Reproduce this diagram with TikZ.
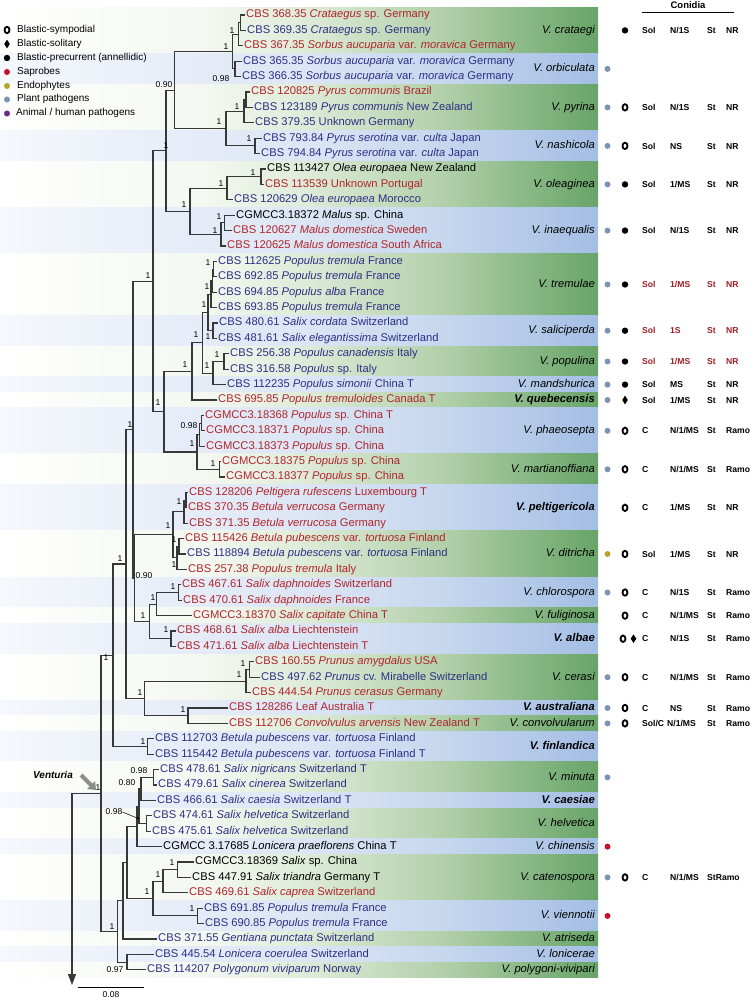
\documentclass[tikz,border=0pt]{standalone}
\usepackage{fontspec}
\setmainfont{Liberation Sans}
\usetikzlibrary{arrows.meta}
\definecolor{tred}{HTML}{B1252B}
\definecolor{tblue}{HTML}{2E2F86}
\definecolor{cred}{HTML}{A01E24}
\definecolor{ppc}{HTML}{7D93B5}
\definecolor{sapc}{HTML}{C8102E}
\definecolor{endc}{HTML}{B8A42C}
\definecolor{anic}{HTML}{6B2A85}
\definecolor{treec}{HTML}{383838}
\definecolor{gA}{HTML}{F4F8F1}
\definecolor{gB}{HTML}{E0ECDA}
\definecolor{gC}{HTML}{B2D0AA}
\definecolor{gD}{HTML}{68A468}
\definecolor{bA}{HTML}{F5F8FC}
\definecolor{bB}{HTML}{DDE6F5}
\definecolor{bC}{HTML}{C6D7EE}
\definecolor{bD}{HTML}{A4BEE4}
\pgfdeclarehorizontalshading{bandg}{100bp}{color(0bp)=(white); color(25bp)=(white); color(42bp)=(gA); color(50bp)=(gB); color(62bp)=(gC); color(75bp)=(gD); color(100bp)=(gD)}
\pgfdeclarehorizontalshading{bandb}{100bp}{color(0bp)=(bA); color(25bp)=(bA); color(50bp)=(bB); color(62bp)=(bC); color(75bp)=(bD); color(100bp)=(bD)}
\newcommand\lifedot[2]{\fill[#1] (607.5,#2) circle (3);}
\newcommand\symring[2]{\draw[line width=1.8pt] (#1,#2) ellipse (2.5 and 3.2);}
\newcommand\symfill[2]{\fill (#1,#2) circle (3.2);}
\newcommand\symdia[2]{\fill (#1,#2-4.3) -- (#1+2.8,#2) -- (#1,#2+4.3) -- (#1-2.8,#2) -- cycle;}
\newcommand\conrow[7]{%
 \node[col,text=#3] (#1a) at (642,#2) {#4};
 \node[col,text=#3] (#1b) at (670,#2) {#5};
 \node[col,text=#3] (#1c) at (707,#2) {#6};
 \node[col,text=#3] (#1d) at (726,#2) {#7};}
\begin{document}
\begin{tikzpicture}[x=1pt,y=-1pt,
  leaf/.style={anchor=west,inner sep=1.5pt,font=\fontsize{11.2}{12}\selectfont,text height=8pt,text depth=2.3pt},
  supp/.style={inner sep=0pt,font=\fontsize{8.5}{9}\selectfont},
  br/.style={line width=1.1pt,draw=treec},
  sp/.style={anchor=east,inner sep=0pt,font=\fontsize{11.2}{12}\selectfont\itshape,text height=8pt,text depth=2.3pt},
  spb/.style={sp,font=\fontsize{11.2}{12}\selectfont\bfseries\itshape},
  col/.style={anchor=west,inner sep=0pt,font=\fontsize{8.6}{10}\selectfont\bfseries,text height=6.3pt,text depth=0pt},
  legt/.style={anchor=west,inner sep=0pt,font=\fontsize{10}{11}\selectfont,text height=7pt,text depth=2pt}]
\useasboundingbox (0,0) rectangle (751,1000);
% bands
\foreach \a/\b/\s in {7.3/53.5/bandg,53.5/84.3/bandb,84.3/130.5/bandg,130.5/161.3/bandb,161.3/207.5/bandg,207.5/253.7/bandb,253.7/315.3/bandg,315.3/346.1/bandb,346.1/376.9/bandg,376.9/392.3/bandb,392.3/407.7/bandg,407.7/453.9/bandb,453.9/484.7/bandg,484.7/530.9/bandb,530.9/577.1/bandg,577.1/607.9/bandb,607.9/623.3/bandg,623.3/654.1/bandb,654.1/700.3/bandg,700.3/715.7/bandb,715.7/731.1/bandg,731.1/761.9/bandb,761.9/792.7/bandg,792.7/808.1/bandb,808.1/838.9/bandg,838.9/854.3/bandb,854.3/900.5/bandg,900.5/931.3/bandb,931.3/946.7/bandg,946.7/962.1/bandb,962.1/977.5/bandg}
  \shade[shading=\s] (0,\a) rectangle (598,\b);
% legend
\symring{7}{30}
\node[legt] (lg1) at (17,30) {Blastic-sympodial};
\symdia{7}{44}
\node[legt] (lg2) at (17,44) {Blastic-solitary};
\symfill{7}{58}
\node[legt] (lg3) at (17,58) {Blastic-precurrent (annellidic)};
\fill[sapc] (7,72) circle (3);
\node[legt] (lg4) at (17,72) {Saprobes};
\fill[endc] (7,86) circle (3);
\node[legt] (lg5) at (17,86) {Endophytes};
\fill[ppc] (7,99.5) circle (3);
\node[legt] (lg6) at (17,99.5) {Plant pathogens};
\fill[anic] (7,113.5) circle (3);
\node[legt] (lg7) at (16,113.5) {Animal / human pathogens};
% header
\node[inner sep=0pt,font=\fontsize{9.5}{10}\selectfont\bfseries] (hdr) at (688,5) {Conidia};
\coordinate (hl) at (642,12.5); \coordinate (hr) at (734,12.5);
\draw[line width=1.3pt] (hl) -- (hr);
% leaves
\node[leaf,text=tred]  (t1)  at (244.5,15.0)  {CBS 368.35 \textit{Crataegus} sp. Germany};
\node[leaf,text=tblue] (t2)  at (245.5,30.4)  {CBS 369.35 \textit{Crataegus} sp. Germany};
\node[leaf,text=tred]  (t3)  at (242.5,45.8)  {CBS 367.35 \textit{Sorbus aucuparia} var. \textit{moravica} Germany};
\node[leaf,text=tblue] (t4)  at (241.5,61.2)  {CBS 365.35 \textit{Sorbus aucuparia} var. \textit{moravica} Germany};
\node[leaf,text=tblue] (t5)  at (240.5,76.6)  {CBS 366.35 \textit{Sorbus aucuparia} var. \textit{moravica} Germany};
\node[leaf,text=tred]  (t6)  at (249.5,92.0)  {CBS 120825 \textit{Pyrus communis} Brazil};
\node[leaf,text=tblue] (t7)  at (252.5,107.4) {CBS 123189 \textit{Pyrus communis} New Zealand};
\node[leaf,text=tblue] (t8)  at (253.5,122.8) {CBS 379.35 Unknown Germany};
\node[leaf,text=tblue] (t9)  at (261.5,138.2) {CBS 793.84 \textit{Pyrus serotina} var. \textit{culta} Japan};
\node[leaf,text=tblue] (t10) at (259.5,153.6) {CBS 794.84 \textit{Pyrus serotina} var. \textit{culta} Japan};
\node[leaf,text=black] (t11) at (265.5,169.0) {CBS 113427 \textit{Olea europaea} New Zealand};
\node[leaf,text=tred]  (t12) at (263.5,184.4) {CBS 113539 Unknown Portugal};
\node[leaf,text=tblue] (t13) at (232.5,199.8) {CBS 120629 \textit{Olea europaea} Morocco};
\node[leaf,text=black] (t14) at (234.5,215.2) {CGMCC3.18372 \textit{Malus} sp. China};
\node[leaf,text=tred]  (t15) at (231.5,230.6) {CBS 120627 \textit{Malus domestica} Sweden};
\node[leaf,text=tred]  (t16) at (225.5,246.0) {CBS 120625 \textit{Malus domestica} South Africa};
\node[leaf,text=tblue] (t17) at (216.5,261.4) {CBS 112625 \textit{Populus tremula} France};
\node[leaf,text=tblue] (t18) at (216.5,276.8) {CBS 692.85 \textit{Populus tremula} France};
\node[leaf,text=tblue] (t19) at (216.5,292.2) {CBS 694.85 \textit{Populus alba} France};
\node[leaf,text=tblue] (t20) at (216.5,307.6) {CBS 693.85 \textit{Populus tremula} France};
\node[leaf,text=tblue] (t21) at (217.5,323.0) {CBS 480.61 \textit{Salix cordata} Switzerland};
\node[leaf,text=tblue] (t22) at (216.5,338.4) {CBS 481.61 \textit{Salix elegantissima} Switzerland};
\node[leaf,text=tblue] (t23) at (228.5,353.8) {CBS 256.38 \textit{Populus canadensis} Italy};
\node[leaf,text=tblue] (t24) at (228.5,369.2) {CBS 316.58 \textit{Populus} sp. Italy};
\node[leaf,text=tblue] (t25) at (225.5,384.6) {CBS 112235 \textit{Populus simonii} China T};
\node[leaf,text=tred]  (t26) at (216.5,400.0) {CBS 695.85 \textit{Populus tremuloides} Canada T};
\node[leaf,text=tred]  (t27) at (203.5,415.4) {CGMCC3.18368 \textit{Populus} sp. China T};
\node[leaf,text=tred]  (t28) at (204.5,430.8) {CGMCC3.18371 \textit{Populus} sp. China};
\node[leaf,text=tred]  (t29) at (204.5,446.2) {CGMCC3.18373 \textit{Populus} sp. China};
\node[leaf,text=tred]  (t30) at (220.5,461.6) {CGMCC3.18375 \textit{Populus} sp. China};
\node[leaf,text=tred]  (t31) at (224.5,477.0) {CGMCC3.18377 \textit{Populus} sp. China};
\node[leaf,text=tred]  (t32) at (187.5,492.4) {CBS 128206 \textit{Peltigera rufescens} Luxembourg T};
\node[leaf,text=tred]  (t33) at (186.5,507.8) {CBS 370.35 \textit{Betula verrucosa} Germany};
\node[leaf,text=tred]  (t34) at (187.5,523.2) {CBS 371.35 \textit{Betula verrucosa} Germany};
\node[leaf,text=tred]  (t35) at (183.5,538.6) {CBS 115426 \textit{Betula pubescens} var. \textit{tortuosa} Finland};
\node[leaf,text=tblue] (t36) at (185.5,554.0) {CBS 118894 \textit{Betula pubescens} var. \textit{tortuosa} Finland};
\node[leaf,text=tred]  (t37) at (186.5,569.4) {CBS 257.38 \textit{Populus tremula} Italy};
\node[leaf,text=tred]  (t38) at (180.5,584.8) {CBS 467.61 \textit{Salix daphnoides} Switzerland};
\node[leaf,text=tred]  (t39) at (181.5,600.2) {CBS 470.61 \textit{Salix daphnoides} France};
\node[leaf,text=tred]  (t40) at (191.5,615.6) {CGMCC3.18370 \textit{Salix capitate} China T};
\node[leaf,text=tred]  (t41) at (175.5,631.0) {CBS 468.61 \textit{Salix alba} Liechtenstein};
\node[leaf,text=tred]  (t42) at (175.5,646.4) {CBS 471.61 \textit{Salix alba} Liechtenstein T};
\node[leaf,text=tred]  (t43) at (253.5,661.8) {CBS 160.55 \textit{Prunus amygdalus} USA};
\node[leaf,text=tblue] (t44) at (259.5,677.2) {CBS 497.62 \textit{Prunus} cv. Mirabelle Switzerland};
\node[leaf,text=tred]  (t45) at (250.5,692.6) {CBS 444.54 \textit{Prunus cerasus} Germany};
\node[leaf,text=tred]  (t46) at (227.5,708.0) {CBS 128286 Leaf Australia T};
\node[leaf,text=tred]  (t47) at (227.5,723.4) {CBS 112706 \textit{Convolvulus arvensis} New Zealand T};
\node[leaf,text=tblue] (t48) at (153.5,738.8) {CBS 112703 \textit{Betula pubescens} var. \textit{tortuosa} Finland};
\node[leaf,text=tblue] (t49) at (153.5,754.2) {CBS 115442 \textit{Betula pubescens} var. \textit{tortuosa} Finland T};
\node[leaf,text=tblue] (t50) at (158.5,769.6) {CBS 478.61 \textit{Salix nigricans} Switzerland T};
\node[leaf,text=tblue] (t51) at (156.5,785.0) {CBS 479.61 \textit{Salix cinerea} Switzerland};
\node[leaf,text=tblue] (t52) at (155.5,800.4) {CBS 466.61 \textit{Salix caesia} Switzerland T};
\node[leaf,text=tblue] (t53) at (151.5,815.8) {CBS 474.61 \textit{Salix helvetica} Switzerland};
\node[leaf,text=tblue] (t54) at (150.5,831.2) {CBS 475.61 \textit{Salix helvetica} Switzerland};
\node[leaf,text=black] (t55) at (161.5,846.6) {CGMCC 3.17685 \textit{Lonicera praeflorens} China T};
\node[leaf,text=black] (t56) at (193.5,862.0) {CGMCC3.18369 \textit{Salix} sp. China};
\node[leaf,text=black] (t57) at (190.5,877.4) {CBS 447.91 \textit{Salix triandra} Germany T};
\node[leaf,text=tred]  (t58) at (187.5,892.8) {CBS 469.61 \textit{Salix caprea} Switzerland};
\node[leaf,text=tblue] (t59) at (202.5,908.2) {CBS 691.85 \textit{Populus tremula} France};
\node[leaf,text=tblue] (t60) at (203.5,923.6) {CBS 690.85 \textit{Populus tremula} France};
\node[leaf,text=tblue] (t61) at (156.5,939.0) {CBS 371.55 \textit{Gentiana punctata} Switzerland};
\node[leaf,text=tblue] (t62) at (153.5,954.4) {CBS 445.54 \textit{Lonicera coerulea} Switzerland};
\node[leaf,text=tblue] (t63) at (145.5,969.8) {CBS 114207 \textit{Polygonum viviparum} Norway};
% internal nodes
\coordinate (c12) at (240.5,22.7);
\coordinate (c123) at (238.5,34.25);
\coordinate (orb) at (235,68.9);
\coordinate (A) at (232.5,51.6);
\coordinate (p67) at (246,99.7);
\coordinate (pyr) at (244,111.25);
\coordinate (nas) at (255,145.9);
\coordinate (C) at (226,128.6);
\coordinate (B) at (174.5,90.1);
\coordinate (o12) at (261,176.7);
\coordinate (ole) at (227,188.25);
\coordinate (i12) at (224.5,222.9);
\coordinate (ina) at (221,234.45);
\coordinate (F) at (190,211.35);
\coordinate (D) at (166,150.7);
\coordinate (tr1) at (213.5,269.1);
\coordinate (tr2) at (212.5,280.65);
\coordinate (tr3) at (211,294.1);
\coordinate (sal) at (213,330.7);
\coordinate (M) at (208,312.4);
\coordinate (pop) at (224,361.5);
\coordinate (N) at (213,373.05);
\coordinate (Ln) at (202.5,342.7);
\coordinate (J) at (192,371.35);
\coordinate (ph12) at (201.5,423.1);
\coordinate (phe) at (199.5,434.65);
\coordinate (mar) at (219.5,469.3);
\coordinate (K) at (197,451.98);
\coordinate (I) at (164,411.7);
\coordinate (H) at (153,281.2);
\coordinate (pe12) at (186,500.1);
\coordinate (pel) at (184,511.65);
\coordinate (d12) at (179,546.3);
\coordinate (dit) at (177,557.85);
\coordinate (S) at (173,534.75);
\coordinate (chl) at (178.5,592.5);
\coordinate (W) at (156.5,604.05);
\coordinate (alb) at (171,638.7);
\coordinate (X) at (149.5,621.4);
\coordinate (V) at (134.5,578.1);
\coordinate (Q) at (133,429.65);
\coordinate (ce1) at (249.5,669.5);
\coordinate (Ce) at (246,681.05);
\coordinate (AC) at (188,715.7);
\coordinate (Y) at (144.5,698.4);
\coordinate (Z) at (126,564.0);
\coordinate (fin) at (147.5,746.5);
\coordinate (AA) at (113,655.25);
\coordinate (min) at (153.5,777.3);
\coordinate (MC) at (141,788.85);
\coordinate (hel) at (146.5,823.5);
\coordinate (JJ) at (139,806.2);
\coordinate (II) at (137,826.4);
\coordinate (ca1) at (177.5,869.7);
\coordinate (cat) at (163,881.25);
\coordinate (vie) at (197.5,915.9);
\coordinate (CV) at (153,898.6);
\coordinate (EE) at (127,862.5);
\coordinate (HH) at (123,900.75);
\coordinate (DD) at (127,962.1);
\coordinate (BB) at (117.5,931.4);
\coordinate (R0) at (101,793.3);
\coordinate (rt) at (72,793.3);
\coordinate (rtend) at (72,985);
% edges
\foreach \p/\c in {c12/t1.west,c12/t2.west,c123/c12,c123/t3.west,orb/t4.west,orb/t5.west,A/c123,A/orb,
 p67/t6.west,p67/t7.west,pyr/p67,pyr/t8.west,nas/t9.west,nas/t10.west,C/pyr,C/nas,B/A,B/C,
 o12/t11.west,o12/t12.west,ole/o12,ole/t13.west,i12/t14.west,i12/t15.west,ina/i12,ina/t16.west,F/ole,F/ina,D/B,D/F,
 tr1/t17.west,tr1/t18.west,tr2/tr1,tr2/t19.west,tr3/tr2,tr3/t20.west,sal/t21.west,sal/t22.west,M/tr3,M/sal,
 pop/t23.west,pop/t24.west,N/pop,N/t25.west,Ln/M,Ln/N,J/Ln,J/t26.west,
 ph12/t27.west,ph12/t28.west,phe/ph12,phe/t29.west,mar/t30.west,mar/t31.west,K/phe,K/mar,I/J,I/K,H/D,H/I,
 pe12/t32.west,pe12/t33.west,pel/pe12,pel/t34.west,d12/t35.west,d12/t36.west,dit/d12,dit/t37.west,S/pel,S/dit,
 chl/t38.west,chl/t39.west,W/chl,W/t40.west,alb/t41.west,alb/t42.west,X/W,X/alb,V/S,V/X,Q/H,Q/V,
 ce1/t43.west,ce1/t44.west,Ce/ce1,Ce/t45.west,AC/t46.west,AC/t47.west,Y/Ce,Y/AC,Z/Q,Z/Y,
 fin/t48.west,fin/t49.west,AA/Z,AA/fin,
 min/t50.west,min/t51.west,MC/min,MC/t52.west,hel/t53.west,hel/t54.west,JJ/MC,JJ/hel,II/JJ,II/t55.west,
 ca1/t56.west,ca1/t57.west,cat/ca1,cat/t58.west,vie/t59.west,vie/t60.west,CV/cat,CV/vie,EE/II,EE/CV,
 HH/EE,HH/t61.west,DD/t62.west,DD/t63.west,BB/HH,BB/DD,R0/AA,R0/BB,rt/R0}
  \draw[br] (\p) |- (\c);
\draw[br,-{Triangle[length=11pt,width=8pt]}] (rt) -- (rtend);
% support values
\foreach \x/\y/\t [count=\i] in {232/31/1,226/47/1,221/79/0.98,164/85/0.90,237/107/1,219/122/1,249/139/1,166/146/1,
 253/173/1,221/184/1,184/205/1,219/217/1,215/231/1,148/276/1,208/263/1,207/287/1,204/305/1,196/335/1,208/337/1,
 217/355/1,207/366/1,185/365/1,158/403/1,130/425/1,189/426/0.98,192/444/1,213/464/1,179/502/1,168/526/1,
 174/540/1,174/565/1,120/559/1,144/576/0.90,173/587/1,153/598/1,143/616/1,166/630/1,106/658/1,243/664/1,
 239/675/1,140/693/1,183/710/1,143/742/1,139/771/0.98,127/783/0.80,98/788/1,114/812/0.98,172/863/1,
 158/875/1,147/892/1,192/909/1,112/927/1,115/970/0.97}
  \node[supp] (bs\i) at (\x,\y) {\t};
\coordinate (arrtip) at (139.5,819);
\draw[line width=0.5pt,-{Stealth[length=3pt,width=2.5pt]}] (bs47.east) -- (arrtip);
% Venturia
\node[inner sep=0pt,font=\fontsize{10}{11}\selectfont\bfseries\itshape] (ven) at (53,775) {Venturia};
\coordinate (ga1) at (81,775); \coordinate (ga2) at (96,790);
\draw[line width=4pt,draw=black!45,-{Triangle[length=7pt,width=11pt]}] (ga1) -- (ga2);
% scale bar
\coordinate (sb1) at (78,987); \coordinate (sb2) at (144,987);
\draw[line width=0.9pt] (sb1) -- (sb2);
\node[supp] (sbl) at (111,994.5) {0.08};
% species names
\node[sp]  (s1)  at (595,30.4)  {V. crataegi};
\node[sp]  (s2)  at (595,68.9)  {V. orbiculata};
\node[sp]  (s3)  at (595,107.4) {V. pyrina};
\node[sp]  (s4)  at (595,145.9) {V. nashicola};
\node[sp]  (s5)  at (595,184.4) {V. oleaginea};
\node[sp]  (s6)  at (595,230.6) {V. inaequalis};
\node[sp]  (s7)  at (595,284.5) {V. tremulae};
\node[sp]  (s8)  at (595,330.7) {V. saliciperda};
\node[sp]  (s9)  at (595,361.5) {V. populina};
\node[sp]  (s10) at (595,384.6) {V. mandshurica};
\node[spb] (s11) at (595,400.0) {V. quebecensis};
\node[sp]  (s12) at (595,430.8) {V. phaeosepta};
\node[sp]  (s13) at (595,469.3) {V. martianoffiana};
\node[spb] (s14) at (595,507.8) {V. peltigericola};
\node[sp]  (s15) at (595,554.0) {V. ditricha};
\node[sp]  (s16) at (595,592.5) {V. chlorospora};
\node[sp]  (s17) at (595,615.6) {V. fuliginosa};
\node[spb] (s18) at (595,638.7) {V. albae};
\node[sp]  (s19) at (595,677.2) {V. cerasi};
\node[spb] (s20) at (595,708.0) {V. australiana};
\node[sp]  (s21) at (595,723.4) {V. convolvularum};
\node[spb] (s22) at (595,746.5) {V. finlandica};
\node[sp]  (s23) at (595,777.3) {V. minuta};
\node[spb] (s24) at (595,800.4) {V. caesiae};
\node[sp]  (s25) at (595,823.5) {V. helvetica};
\node[sp]  (s26) at (595,846.6) {V. chinensis};
\node[sp]  (s27) at (595,877.4) {V. catenospora};
\node[sp]  (s28) at (595,915.9) {V. viennotii};
\node[sp]  (s29) at (595,939.0) {V. atriseda};
\node[sp]  (s30) at (595,954.4) {V. lonicerae};
\node[sp]  (s31) at (595,969.8) {V. polygoni-vivipari};
% right columns
\symfill{625}{30.4}   \conrow{r1}{30.4}{black}{Sol}{N/1S}{St}{NR}
\lifedot{ppc}{68.9}
\lifedot{ppc}{107.4} \symring{625}{107.4} \conrow{r3}{107.4}{black}{Sol}{N/1S}{St}{NR}
\lifedot{ppc}{145.9} \symring{625}{145.9} \conrow{r4}{145.9}{black}{Sol}{NS}{St}{NR}
\lifedot{ppc}{184.4} \symfill{625}{184.4} \conrow{r5}{184.4}{black}{Sol}{1/MS}{St}{NR}
\lifedot{ppc}{230.6} \symfill{625}{230.6} \conrow{r6}{230.6}{black}{Sol}{N/1S}{St}{NR}
\lifedot{ppc}{284.5} \symfill{625}{284.5} \conrow{r7}{284.5}{cred}{Sol}{1/MS}{St}{NR}
\lifedot{ppc}{330.7} \symfill{625}{330.7} \conrow{r8}{330.7}{cred}{Sol}{1S}{St}{NR}
\lifedot{ppc}{361.5} \symfill{625}{361.5} \conrow{r9}{361.5}{cred}{Sol}{1/MS}{St}{NR}
\lifedot{ppc}{384.6} \symfill{625}{384.6} \conrow{r10}{384.6}{black}{Sol}{MS}{St}{NR}
\lifedot{ppc}{400.0} \symdia{625}{400.0} \conrow{r11}{400.0}{black}{Sol}{1/MS}{St}{NR}
\lifedot{ppc}{430.8} \symring{625}{430.8} \conrow{r12}{430.8}{black}{C}{N/1/MS}{St}{Ramo}
\lifedot{ppc}{469.3} \symring{625}{469.3} \conrow{r13}{469.3}{black}{C}{N/1/MS}{St}{Ramo}
\symring{625}{507.8} \conrow{r14}{507.8}{black}{C}{1/MS}{St}{NR}
\lifedot{endc}{554.0} \symring{625}{554.0} \conrow{r15}{554.0}{black}{Sol}{1/MS}{St}{NR}
\lifedot{ppc}{592.5} \symring{625}{592.5} \conrow{r16}{592.5}{black}{C}{N/1S}{St}{Ramo}
\symring{625}{615.6} \conrow{r17}{615.6}{black}{C}{N/1/MS}{St}{Ramo}
\symring{623}{638.7} \symdia{633.5}{638.7} \conrow{r18}{638.7}{black}{C}{N/1S}{St}{Ramo}
\lifedot{ppc}{677.2} \symring{625}{677.2} \conrow{r19}{677.2}{black}{C}{N/1/MS}{St}{Ramo}
\lifedot{ppc}{708.0} \symring{625}{708.0} \conrow{r20}{708.0}{black}{C}{NS}{St}{Ramo}
\lifedot{ppc}{723.4} \symring{625}{723.4}
\node[col] (r21a) at (642,723.4) {Sol/C};
\node[col] (r21b) at (667,723.4) {N/1/MS};
\node[col] (r21c) at (707,723.4) {St};
\node[col] (r21d) at (726,723.4) {Ramo};
\lifedot{ppc}{777.3}
\lifedot{sapc}{846.6}
\lifedot{ppc}{877.4} \symring{625}{877.4}
\node[col] (r27a) at (642,877.4) {C};
\node[col] (r27b) at (670,877.4) {N/1/MS};
\node[col] (r27c) at (707,877.4) {StRamo};
\lifedot{sapc}{915.9}
\end{tikzpicture}
\end{document}
